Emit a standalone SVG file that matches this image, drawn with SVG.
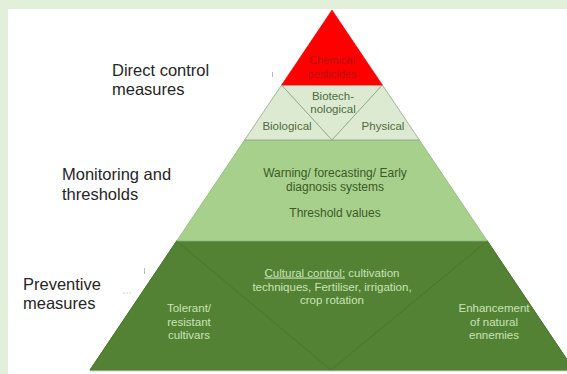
<svg xmlns="http://www.w3.org/2000/svg" width="567" height="374" viewBox="0 0 567 374">
  <defs>
    <style>
      .frame { fill: #e2efd9; }
      .lbl { font-family: "Liberation Sans", Arial, sans-serif; font-size: 16.5px; fill: #262626; }
      .t { font-family: "Liberation Sans", Arial, sans-serif; text-anchor: middle; }
      .red-t { font-size: 11px; fill: #b3140f; }
      .pale-t { font-size: 11.5px; fill: #4f6b3c; }
      .mid-t { font-size: 12px; fill: #3b5a26; }
      .dark-t { font-size: 11.5px; fill: #c9e2b6; }
      .pale { fill: #dbead0; stroke: #8fa28a; stroke-width: 0.8; }
      .dark { fill: #548235; stroke: #4a7530; stroke-width: 0.8; }
      .speck { stroke: #b8b8b8; stroke-width: 1; fill: none; }
    </style>
  </defs>

  <!-- page background and frame -->
  <rect width="567" height="374" fill="#ffffff"/>
  <rect class="frame" x="0" y="0" width="567" height="9"/>
  <rect class="frame" x="0" y="0" width="8" height="374"/>

  <!-- level labels -->
  <g id="label-direct">
    <text class="lbl" x="112" y="76">Direct control</text>
    <text class="lbl" x="112" y="95">measures</text>
  </g>
  <g id="label-monitoring">
    <text class="lbl" x="62" y="180">Monitoring and</text>
    <text class="lbl" x="62" y="200">thresholds</text>
  </g>
  <g id="label-preventive">
    <text class="lbl" x="23" y="290">Preventive</text>
    <text class="lbl" x="23" y="309">measures</text>
  </g>

  <!-- small stray marks -->
  <line class="speck" x1="272.5" y1="72" x2="272.5" y2="77"/>
  <line class="speck" x1="144.5" y1="268" x2="144.5" y2="274"/>
  <g fill="#c4c4c4">
    <circle cx="124" cy="293" r="0.7"/>
    <circle cx="127" cy="293" r="0.7"/>
    <circle cx="130" cy="293" r="0.7"/>
  </g>

  <!-- base tier: preventive measures -->
  <g id="tier-preventive">
    <polygon class="dark" points="176.7,241 487.3,241 574,370 90,370"/>
    <line x1="90" y1="370.8" x2="567" y2="370.8" stroke="#c9cfc4" stroke-width="1.2"/>
  </g>
  <g id="node-tolerant">
    <polygon class="dark" points="176.7,241 331,370 90,370"/>
    <text class="t dark-t" x="189" y="312">Tolerant/</text>
    <text class="t dark-t" x="189" y="325.5">resistant</text>
    <text class="t dark-t" x="189" y="339">cultivars</text>
  </g>
  <g id="node-cultural">
    <polygon class="dark" points="176.7,241 487.3,241 331,370"/>
    <text class="t dark-t" x="332" y="276.5"><tspan text-decoration="underline">Cultural control:</tspan> cultivation</text>
    <text class="t dark-t" x="332" y="290.5">techniques, Fertiliser, irrigation,</text>
    <text class="t dark-t" x="332" y="304">crop rotation</text>
  </g>
  <g id="node-enhancement">
    <polygon class="dark" points="487.3,241 574,370 331,370"/>
    <text class="t dark-t" x="494" y="312">Enhancement</text>
    <text class="t dark-t" x="494" y="325.5">of natural</text>
    <text class="t dark-t" x="494" y="339">ennemies</text>
  </g>

  <!-- middle tier: monitoring and thresholds -->
  <g id="node-monitoring">
    <polygon points="244.6,140 419.4,140 487.3,241 176.7,241" fill="#a8d08d" stroke="#8fb677" stroke-width="0.8"/>
    <text class="t mid-t" x="335" y="177">Warning/ forecasting/ Early</text>
    <text class="t mid-t" x="335" y="191">diagnosis systems</text>
    <text class="t mid-t" x="335" y="217">Threshold values</text>
  </g>

  <!-- upper tier: non-chemical direct control -->
  <g id="node-biological">
    <polygon class="pale" points="281.6,85 332,140 244.6,140"/>
    <text class="t pale-t" x="287" y="130">Biological</text>
  </g>
  <g id="node-biotech">
    <polygon class="pale" points="281.6,85 382.4,85 332,140"/>
    <text class="t pale-t" x="333" y="100">Biotech-</text>
    <text class="t pale-t" x="333" y="113">nological</text>
  </g>
  <g id="node-physical">
    <polygon class="pale" points="382.4,85 419.4,140 332,140"/>
    <text class="t pale-t" x="383" y="130">Physical</text>
  </g>

  <!-- apex: chemical control -->
  <g id="node-chemical">
    <polygon points="332,10 382.4,85 281.6,85" fill="#fe0000" stroke="#f00000" stroke-width="0.6"/>
    <text class="t red-t" x="332" y="64">Chemical</text>
    <text class="t red-t" x="332" y="78">pesticides</text>
  </g>
</svg>
